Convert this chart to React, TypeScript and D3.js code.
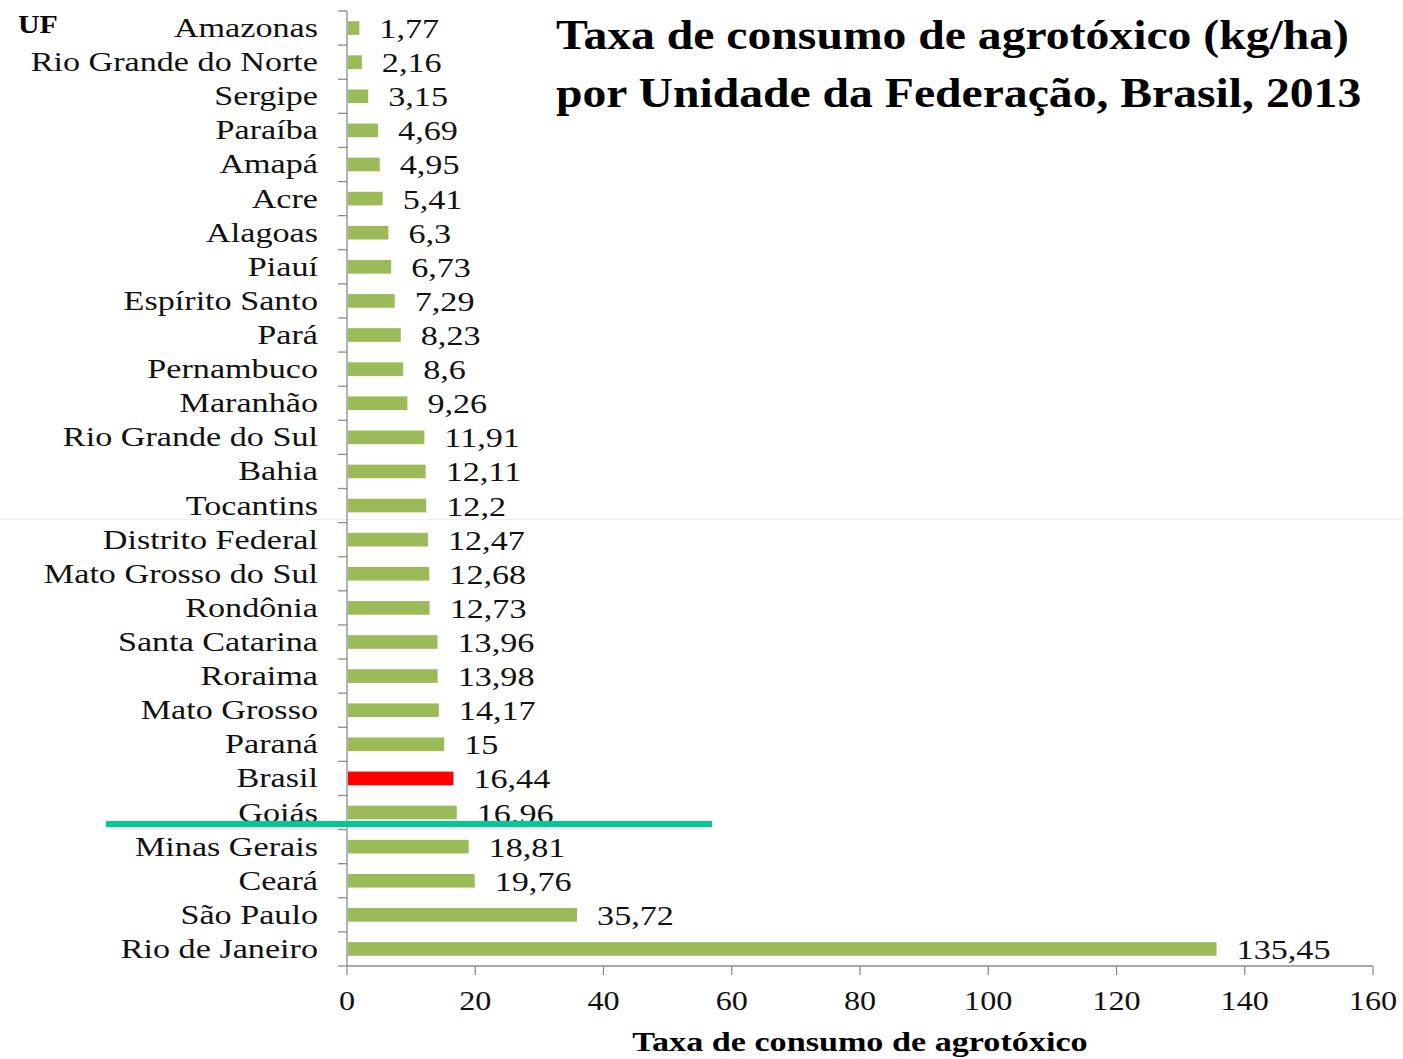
import * as d3 from "d3";

const states = [
  "Amazonas", "Rio Grande do Norte", "Sergipe", "Paraíba", "Amapá", "Acre",
  "Alagoas", "Piauí", "Espírito Santo", "Pará", "Pernambuco", "Maranhão",
  "Rio Grande do Sul", "Bahia", "Tocantins", "Distrito Federal",
  "Mato Grosso do Sul", "Rondônia", "Santa Catarina", "Roraima",
  "Mato Grosso", "Paraná", "Brasil", "Goiás", "Minas Gerais", "Ceará",
  "São Paulo", "Rio de Janeiro",
];
const rates = [
  1.77, 2.16, 3.15, 4.69, 4.95, 5.41, 6.3, 6.73, 7.29, 8.23, 8.6, 9.26,
  11.91, 12.11, 12.2, 12.47, 12.68, 12.73, 13.96, 13.98, 14.17, 15, 16.44,
  16.96, 18.81, 19.76, 35.72, 135.45,
];
const xTicks = [0, 20, 40, 60, 80, 100, 120, 140, 160];
const highlight = "Brasil";

const W = 1403;
const H = 1059;
const serif = "'Liberation Serif', 'Times New Roman', serif";
const stretch = 1.22;

export default function App() {
  const x = d3.scaleLinear().domain([0, 160]).range([347, 1373]);
  const y = d3.scaleBand().domain(states).range([11, 966]).paddingInner(0.6).paddingOuter(0.3);
  const edges = d3.range(states.length + 1).map((i) => 11 + (i * (966 - 11)) / states.length);
  const fmt = (v: number) => String(v).replace(".", ",");

  return (
    <svg width={W} height={H} style={{ position: "absolute", left: 0, top: 0, background: "#fff" }}>
      {/* faint seam across the picture */}
      <line x1={0} x2={W} y1={519.5} y2={519.5} stroke="#eaf1f1" strokeWidth={1} />

      {/* title */}
      <g fontFamily={serif} fontWeight="bold" fontSize={42} fill="#000">
        <text transform="translate(556,49) scale(1.135,1)">Taxa de consumo de agrotóxico (kg/ha)</text>
        <text transform="translate(556,107) scale(1.135,1)">por Unidade da Federação, Brasil, 2013</text>
      </g>
      <text transform="translate(18,33) scale(1.15,1)" fontFamily={serif} fontWeight="bold" fontSize={26}>UF</text>

      {/* bars */}
      {states.map((s, i) => (
        <rect
          key={s}
          x={x(0) + 1}
          y={y(s)}
          width={x(rates[i]) - x(0)}
          height={y.bandwidth()}
          fill={s === highlight ? "#ff0000" : "#9bbb59"}
        />
      ))}

      {/* y axis */}
      <g stroke="#8c8c8c" strokeWidth={1.3}>
        <line x1={347} x2={347} y1={edges[0]} y2={edges[edges.length - 1]} />
        {edges.map((e, i) => (
          <line key={i} x1={338} x2={347} y1={e} y2={e} />
        ))}
        <line x1={347} x2={1373} y1={966} y2={966} />
        {xTicks.map((t) => (
          <line key={t} x1={x(t)} x2={x(t)} y1={966} y2={975} />
        ))}
      </g>

      {/* category labels */}
      <g fontFamily={serif} fontSize={28} fill="#111">
        {states.map((s) => (
          <text
            key={s}
            textAnchor="end"
            transform={`translate(318,${(y(s) ?? 0) + y.bandwidth() / 2 + 9}) scale(${stretch},1)`}
          >
            {s}
          </text>
        ))}
        {states.map((s, i) => (
          <text
            key={s + "v"}
            transform={`translate(${x(rates[i]) + 21},${(y(s) ?? 0) + y.bandwidth() / 2 + 10}) scale(${stretch},1)`}
          >
            {fmt(rates[i])}
          </text>
        ))}
        {xTicks.map((t) => (
          <text key={t} textAnchor="middle" transform={`translate(${x(t)},1010) scale(1.15,1)`}>
            {t}
          </text>
        ))}
      </g>

      <text
        transform="translate(860,1051) scale(1.22,1)"
        textAnchor="middle"
        fontFamily={serif}
        fontWeight="bold"
        fontSize={28}
      >
        Taxa de consumo de agrotóxico
      </text>

      {/* teal marker line */}
      <line x1={106} x2={712} y1={824} y2={824} stroke="#00c896" strokeWidth={6} />
    </svg>
  );
}
